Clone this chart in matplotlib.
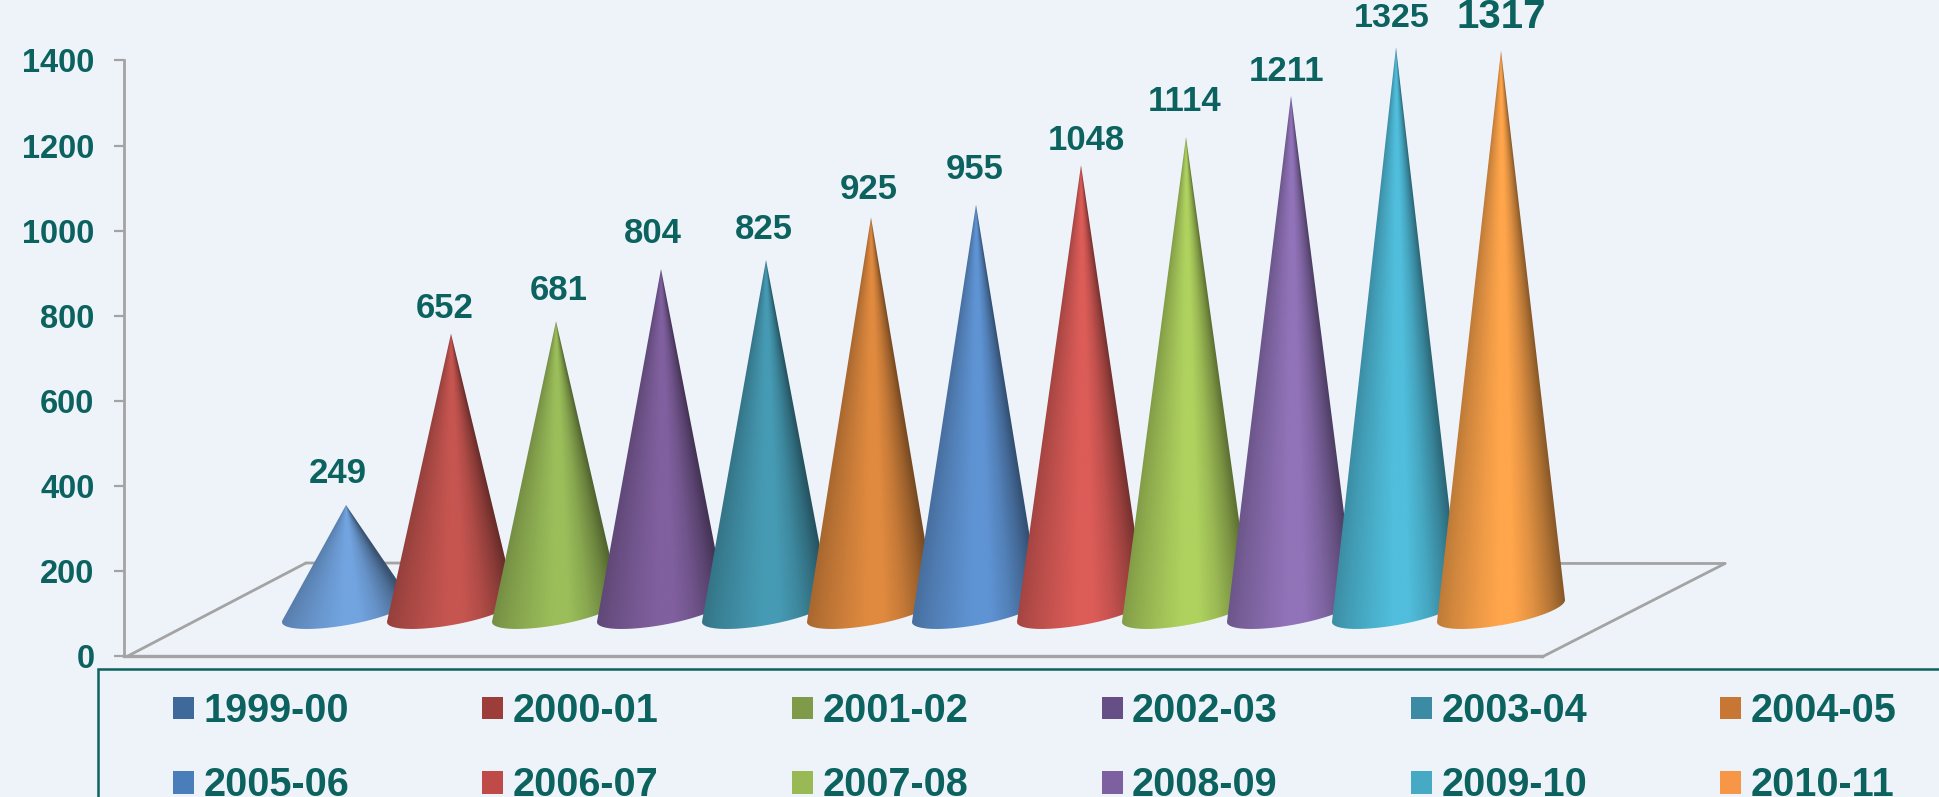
import numpy as np
import matplotlib
matplotlib.use("Agg")
import matplotlib.pyplot as plt
from matplotlib.patches import PathPatch, Patch, Rectangle
from matplotlib.path import Path

# ---- data ----
years = ["1999-00", "2000-01", "2001-02", "2002-03", "2003-04", "2004-05",
         "2005-06", "2006-07", "2007-08", "2008-09", "2009-10", "2010-11"]
values = [249, 652, 681, 804, 825, 925, 955, 1048, 1114, 1211, 1325, 1317]
y_ticks = [0, 200, 400, 600, 800, 1000, 1200, 1400]

# ---- style ----
W, H = 1939, 797
BG = "#EEF3FA"
TEAL = "#0B625F"
GREY = "#A3A3A3"
peak_colors = ["#72A4E0", "#C65550", "#9BBE5A", "#80609F", "#469BB4", "#E08A3F",
               "#5F94D4", "#DC5C58", "#AFD25F", "#9173B9", "#50BEDC", "#FFA54B"]
swatch_colors = ["#3F689B", "#9C3D3A", "#7F9A48", "#664E87", "#3C8BA5", "#C77634",
                 "#4A7EBB", "#BE4B48", "#98B954", "#7D60A0", "#46AAC5", "#F79646"]
label_dx = [-8, -6, 2.5, -8, -2, -2.5, -1, 5, -1, -4, -4, 0]
label_dy = [31.5, 25.5, 30.5, 35.5, 30.5, 28.5, 35.5, 24.5, 35.5, 24.5, 28.5, 34]
label_size = [25] * 10 + [24.5, 29]

plt.rcParams["font.family"] = ["Liberation Sans", "DejaVu Sans"]
plt.rcParams["font.weight"] = "bold"

fig = plt.figure(figsize=(W / 100, H / 100), dpi=100, facecolor=BG)


def fx(p):
    return p / W


def fy(p):
    return 1 - p / H


# axes spanning the value axis; 1 x unit = one cone step
AX_L, AX_R, AX_T, AX_B = 124, 1725, 60.5, 656
ax = fig.add_axes([fx(AX_L), fy(AX_B), fx(AX_R - AX_L), (AX_B - AX_T) / H])
ax.set_facecolor("none")
STEP = 105
X0 = 346
xlim = ((AX_L - X0) / STEP, (AX_R - X0) / STEP)
PXY = 1400 / (AX_B - AX_T)  # value units per pixel
PXX = 1 / STEP


def floor_pt(px, py):
    return (px - X0) * PXX, (AX_B - py) * PXY


# floor outline
floor = [(127, 656.5), (306, 563), (1725, 563.5), (1542, 657)]
for a, b in zip(floor[:-1], floor[1:]):
    pa, pb = floor_pt(*a), floor_pt(*b)
    ax.plot([pa[0], pb[0]], [pa[1], pb[1]], color=GREY, lw=2.0,
            solid_capstyle="round", clip_on=False, zorder=1)
ax.plot([xlim[0], floor_pt(1542, 0)[0]], [0, 0], color=GREY, lw=2.4, clip_on=False, zorder=1)

# cones
BASE = 45 * PXY            # cone base centre above axis zero
RX = 64 * PXX              # ellipse half width
TILT = 11 * PXY            # rise of the ellipse's right end
RY = 14.2 * PXY            # ellipse minor radius
su = [-1.05, -0.75, -0.35, -0.05, 0.2, 0.5, 0.8, 1.05]
sv = [0.72, 0.82, 0.93, 1.0, 1.0, 0.88, 0.70, 0.50]


def hull(points):
    pts = sorted(set(map(tuple, points)))

    def half(seq):
        out = []
        for p in seq:
            while len(out) > 1 and ((out[-1][0] - out[-2][0]) * (p[1] - out[-2][1])
                                    - (out[-1][1] - out[-2][1]) * (p[0] - out[-2][0])) <= 0:
                out.pop()
            out.append(p)
        return out[:-1]

    return half(pts) + half(pts[::-1])


t = np.linspace(0, 2 * np.pi, 181)[:-1]
for i, (v, c) in enumerate(zip(values, peak_colors)):
    ex = i + RX * np.cos(t)
    ey = BASE + TILT * np.cos(t) + RY * np.sin(t)
    poly = hull(list(zip(ex, ey)) + [(float(i), BASE + v)])
    path = Path(np.array(poly + [poly[0]]), closed=True)
    patch = PathPatch(path, transform=ax.transData, fc="none", ec="none", clip_on=False)
    ax.add_patch(patch)

    ext = (i - 0.72, i + 0.72, BASE - 1.2 * RY - TILT, BASE + v)
    xs = np.linspace(ext[0], ext[1], 300)
    ys = np.linspace(ext[3], ext[2], 700)
    X, Y = np.meshgrid(xs, ys)
    U = (X - i) / RX * v / np.maximum(BASE + v - Y, 1e-6)
    shade = np.interp(np.clip(U, -1.05, 1.05), su, sv)[..., None]
    rgb = np.array(matplotlib.colors.to_rgb(c))
    img = np.clip(shade * rgb, 0, 1)
    im = ax.imshow(img, extent=ext, aspect="auto", interpolation="bilinear", zorder=2 + i)
    im.set_clip_box(fig.bbox)
    im.set_clip_path(patch)

    ax.annotate(str(v), xy=(i, BASE + v), xytext=(label_dx[i] * 0.72, label_dy[i] * 0.72),
                textcoords="offset points", ha="center", va="center", color=TEAL,
                fontsize=label_size[i], fontweight="bold", annotation_clip=False, zorder=30)

ax.set_xlim(*xlim)
ax.set_ylim(0, 1400)
ax.set_yticks(y_ticks)
ax.set_xticks([])
for s in ["top", "right", "bottom"]:
    ax.spines[s].set_visible(False)
ax.spines["left"].set_color(GREY)
ax.spines["left"].set_linewidth(2.0)
ax.tick_params(axis="y", length=7.2, width=1.6, color=GREY, labelcolor=TEAL,
               labelsize=23.5, pad=14)

# legend frame runs off the canvas on the right and bottom
fig.add_artist(Rectangle((fx(98), fy(H + 20)), fx(W), (H + 20 - 669) / H,
                         transform=fig.transFigure, fc="none", ec=TEAL, lw=1.8))

# legend filled row by row
handles = [Patch(fc=c, ec="none") for c in swatch_colors]
order = [k for col in range(6) for k in (col, col + 6)]
leg = fig.legend([handles[k] for k in order], [years[k] for k in order],
                 ncol=6, loc="upper left", bbox_to_anchor=(fx(173), fy(692)),
                 frameon=False, prop={"size": 28.5, "weight": "bold"},
                 labelcolor=TEAL, borderpad=0, borderaxespad=0,
                 handlelength=0.53, handleheight=0.5, handletextpad=0.24,
                 columnspacing=3.365, labelspacing=0.92)

fig.savefig("out.png", dpi=100, facecolor=BG)
